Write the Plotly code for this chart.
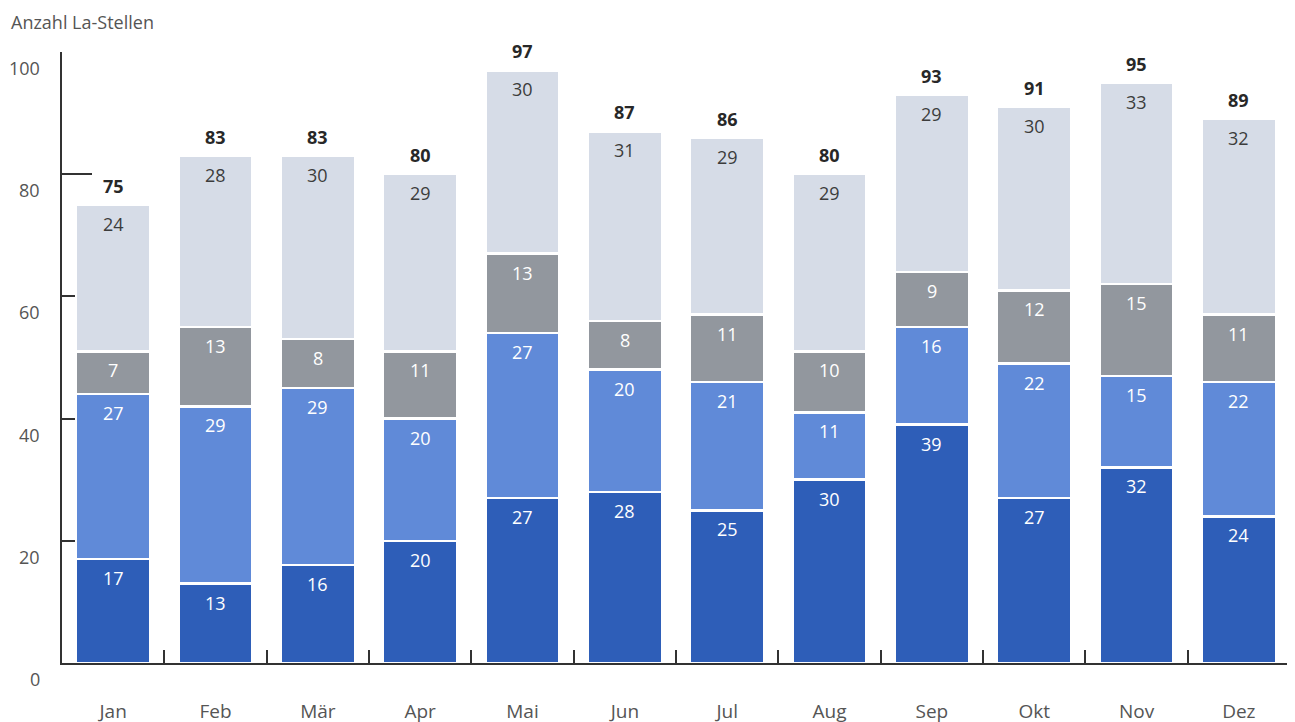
import plotly.graph_objects as go

months = ["Jan", "Feb", "Mär", "Apr", "Mai", "Jun", "Jul", "Aug", "Sep", "Okt", "Nov", "Dez"]
seg1 = [17, 13, 16, 20, 27, 28, 25, 30, 39, 27, 32, 24]
seg2 = [27, 29, 29, 20, 27, 20, 21, 11, 16, 22, 15, 22]
seg3 = [7, 13, 8, 11, 13, 8, 11, 10, 9, 12, 15, 11]
seg4 = [24, 28, 30, 29, 30, 31, 29, 29, 29, 30, 33, 32]
totals = [75, 83, 83, 80, 97, 87, 86, 80, 93, 91, 95, 89]
y_ticks = [0, 20, 40, 60, 80, 100]

series = [
    (seg1, "rgb(46,94,184)", "white"),
    (seg2, "rgb(96,138,216)", "white"),
    (seg3, "rgb(146,151,158)", "white"),
    (seg4, "rgb(214,220,231)", "rgb(60,60,60)"),
]

FONT = "Open Sans"
fig = go.Figure()
cum = [0] * len(months)
for vals, col, tcol in series:
    fig.add_trace(go.Bar(
        x=months, y=vals, marker=dict(color=col, line=dict(color="white", width=2.5)),
        showlegend=False, hoverinfo="skip",
    ))
    cum = [c + v for c, v in zip(cum, vals)]
    for m, c, v in zip(months, cum, vals):
        fig.add_annotation(x=m, y=c, text=str(v), showarrow=False, yanchor="top", yshift=-5,
                           font=dict(size=18, color=tcol, family=FONT))

for m, t in zip(months, totals):
    fig.add_annotation(x=m, y=t, text=f"<b>{t}</b>", showarrow=False, yanchor="bottom",
                       yshift=5, font=dict(size=18, color="rgb(40,40,40)", family=FONT))

for v in y_ticks:
    fig.add_annotation(xref="paper", x=0, y=v, text=str(v), showarrow=False, xanchor="right",
                       xshift=-20, yshift=-16, font=dict(size=18, color="rgb(85,85,85)", family=FONT))

fig.add_annotation(xref="paper", yref="paper", x=0, xshift=-53, y=1.0, yshift=30, text="Anzahl La-Stellen",
                   showarrow=False, xanchor="left", yanchor="middle",
                   font=dict(size=18, color="rgb(85,85,85)", family=FONT))

# page body has an 8px margin, so the figure's margins are reduced accordingly
fig.update_layout(
    barmode="stack", bargap=0.277,
    width=1295, height=722,
    margin=dict(l=54, r=13, t=44, b=67, autoexpand=False),
    plot_bgcolor="white", paper_bgcolor="white",
    font=dict(family=FONT),
    xaxis=dict(showline=True, linecolor="rgb(50,50,50)", linewidth=2, tickson="boundaries",
               ticks="inside", ticklen=13, tickwidth=2, tickcolor="rgb(50,50,50)",
               tickfont=dict(size=19, color="rgb(85,85,85)", family=FONT),
               ticklabelstandoff=30, showgrid=False, layer="below traces", automargin=False),
    yaxis=dict(range=[0, 100], tickvals=y_ticks, showticklabels=False, showline=True,
               linecolor="rgb(50,50,50)", linewidth=2, ticks="inside", ticklen=30, tickwidth=2,
               tickcolor="rgb(50,50,50)", showgrid=False, zeroline=False, layer="below traces",
               automargin=False),
)

fig.write_html("out.html")
